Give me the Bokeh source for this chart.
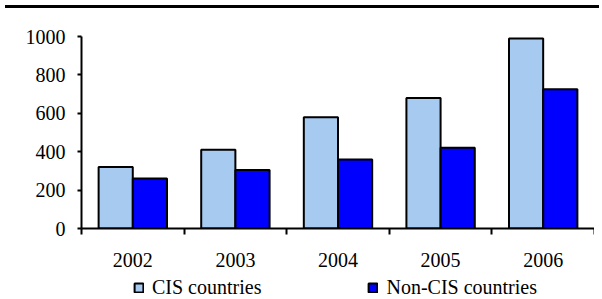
from bokeh.plotting import figure
from bokeh.models import (ColumnDataSource, Range1d, FixedTicker, Legend, LegendItem, Div)
from bokeh.layouts import column
from bokeh.transform import dodge
from bokeh.embed import file_html
from bokeh.resources import INLINE

years = ["2002", "2003", "2004", "2005", "2006"]
cis = [320, 410, 580, 680, 990]
non_cis = [260, 305, 360, 420, 725]
y_ticks = [0, 200, 400, 600, 800, 1000]
series_names = ["CIS countries", "Non-CIS countries"]
series_colors = ["#A6CAF0", "#0000FF"]

FONT = "Liberation Serif"
FS = "20px"
W = 594

centers = [i + 0.5 for i in range(len(years))]
src = ColumnDataSource(dict(x=centers, cis=cis, non=non_cis, year=years))

p = figure(width=W, height=263, output_backend="svg", toolbar_location=None,
           x_range=Range1d(0, len(years)), y_range=Range1d(0, 1000),
           min_border_left=81, min_border_right=0, min_border_top=23, min_border_bottom=48)
p.outline_line_color = None
p.grid.visible = False

p.vbar(x=dodge("x", -0.1667, range=p.x_range), top="cis", width=0.333, source=src,
       fill_color=series_colors[0], line_color="black", line_width=2)
p.vbar(x=dodge("x", 0.1667, range=p.x_range), top="non", width=0.333, source=src,
       fill_color=series_colors[1], line_color="black", line_width=2)

xa = p.xaxis[0]
xa.ticker = FixedTicker(ticks=centers, minor_ticks=list(range(len(years) + 1)))
xa.major_label_overrides = {c: y for c, y in zip(centers, years)}
xa.major_tick_out = 0
xa.major_tick_in = 0
xa.minor_tick_out = 6
xa.minor_tick_in = 0
xa.minor_tick_line_width = 2
xa.minor_tick_line_color = "black"
xa.axis_line_width = 2
xa.major_label_standoff = 18
xa.major_label_text_font = FONT
xa.major_label_text_font_size = FS
xa.major_label_text_color = "black"

ya = p.yaxis[0]
ya.ticker = FixedTicker(ticks=y_ticks)
ya.major_tick_out = 4
ya.major_tick_in = 0
ya.major_tick_line_width = 2
ya.minor_tick_line_color = None
ya.axis_line_width = 2
ya.major_label_standoff = 12
ya.major_label_text_font = FONT
ya.major_label_text_font_size = FS
ya.major_label_text_color = "black"

# legend strip below the chart; its swatch renderers hold a single empty (NaN) row
lg = figure(width=W, height=23, output_backend="svg", toolbar_location=None,
            x_range=Range1d(0, len(years)), y_range=Range1d(0, 1000),
            x_axis_location=None, y_axis_location=None,
            min_border_left=0, min_border_right=0, min_border_top=0, min_border_bottom=0)
lg.outline_line_color = None
lg.grid.visible = False
items = []
for name, col in zip(series_names, series_colors):
    r = lg.vbar(x="x", top="top", width=0.333,
                source=ColumnDataSource(dict(x=[float("nan")], top=[float("nan")])),
                fill_color=col, line_color="black", line_width=2)
    items.append(LegendItem(label=name, renderers=[r]))
legend = Legend(items=items, orientation="horizontal", location=(52, 0),
                glyph_width=11, glyph_height=11, label_standoff=8, spacing=106,
                padding=0, margin=0, border_line_color=None, background_fill_alpha=0,
                label_text_font=FONT, label_text_font_size=FS, label_text_color="black")
lg.add_layout(legend, "center")

rule = Div(width=W, height=3, styles={"background-color": "black"})
layout = column(rule, p, lg, spacing=0)

open("out.html", "w").write(file_html(layout, INLINE))
